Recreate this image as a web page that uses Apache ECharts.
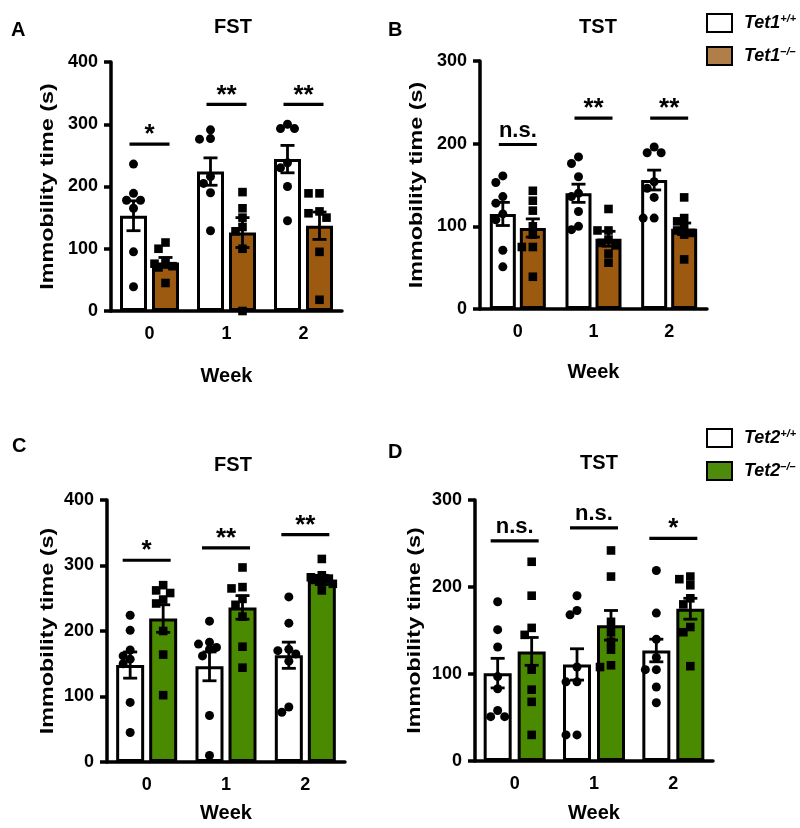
<!DOCTYPE html>
<html><head><meta charset="utf-8">
<script src="https://cdn.jsdelivr.net/npm/echarts@6/dist/echarts.min.js"></script>
<style>html,body{margin:0;padding:0;background:#fff}#c{width:800px;height:828px}</style>
</head><body><div id="c"></div>
<script>
// ---------- data ----------
const weeks = ['0', '1', '2'];

// Panel A: Tet1 FST
const aWtMean = [153, 224, 244];
const aWtSem = [24, 22, 22];
const aKoMean = [78, 126, 137];
const aKoSem = [8, 24, 22];
const aWtPts = [[236, 189, 178, 178, 165, 95, 39], [291, 277, 276, 216, 205, 190, 129], [300, 293, 293, 238, 230, 200, 145]];
const aKoPts = [[110, 100, 78, 76, 72, 70, 45], [191, 165, 150, 135, 128, 100, 0], [189, 189, 160, 157, 150, 95, 18]];
const aSigLabel = ['*', '**', '**'];
const aSigY = [268, 332, 332];

// Panel B: Tet1 TST
const bWtMean = [115, 140, 156];
const bWtSem = [14, 11, 12];
const bKoMean = [98, 85, 97];
const bKoSem = [11, 9, 7];
const bWtPts = [[161, 153, 136, 128, 115, 108, 71, 51], [184, 176, 160, 140, 136, 118, 100, 96], [196, 189, 189, 154, 146, 135, 110, 110]];
const bKoPts = [[143, 131, 119, 100, 90, 75, 75, 39], [121, 95, 95, 84, 80, 77, 67, 56], [135, 110, 106, 100, 95, 92, 90, 60]];
const bSigLabel = ['n.s.', '**', '**'];
const bSigY = [199, 231, 231];

// Panel C: Tet2 FST
const cWtMean = [148, 146, 163];
const cWtSem = [20, 22, 20];
const cKoMean = [219, 236, 278];
const cKoSem = [21, 18, 7];
const cWtPts = [[224, 201, 171, 162, 157, 150, 91, 45], [215, 183, 180, 175, 172, 162, 71, 10], [252, 212, 172, 170, 165, 154, 84, 76]];
const cKoPts = [[270, 262, 258, 248, 242, 200, 164, 102], [297, 267, 265, 249, 240, 222, 176, 144], [310, 285, 282, 280, 278, 275, 272, 262]];
const cSigLabel = ['*', '**', '**'];
const cSigY = [308, 327, 347];

// Panel D: Tet2 TST
const dWtMean = [101, 111, 127];
const dWtSem = [17, 18, 13];
const dKoMean = [126, 156, 175];
const dKoSem = [16, 17, 12];
const dWtPts = [[183, 151, 131, 97, 83, 58, 51, 51], [190, 173, 168, 108, 91, 91, 30, 30], [219, 170, 140, 119, 105, 105, 85, 67]];
const dKoPts = [[229, 190, 153, 145, 105, 82, 68, 30], [242, 212, 160, 148, 137, 128, 110, 108], [212, 209, 202, 187, 180, 154, 148, 109]];
const dSigLabel = ['n.s.', 'n.s.', '*'];
const dSigY = [253, 268, 256];

const tet1Names = ['Tet1+/+', 'Tet1–/–'];
const tet2Names = ['Tet2+/+', 'Tet2–/–'];
const panelLetters = ['A', 'B', 'C', 'D'];
const panelTitles = ['FST', 'TST', 'FST', 'TST'];
const yAxisTitle = 'Immobility time (s)';
const xAxisTitle = 'Week';

// ---------- styles / layout ----------
const FONT = '"Liberation Sans", Arial, Helvetica, sans-serif';
const BROWN = '#9b5a0f', BROWN_LEG = '#b07e48', GREEN = '#4a8a00', GREEN_LEG = '#4d8b0a';
const panels = [
  { grid: { left: 111, top: 62, width: 231, height: 249 }, max: 400, barW: 27, gap: 5, sigHalf: 20, nameGapX: 55, yNameOff: 63, titleX: 228, titleY: 12, letterX: 6, letterY: 15,
    wtMean: aWtMean, wtSem: aWtSem, koMean: aKoMean, koSem: aKoSem, wtPts: aWtPts, koPts: aKoPts, sigL: aSigLabel, sigY: aSigY, names: tet1Names, ko: BROWN },
  { grid: { left: 480, top: 61, width: 227, height: 248 }, max: 300, barW: 26, gap: 4, sigHalf: 19, nameGapX: 53, yNameOff: 63, titleX: 593, titleY: 12, letterX: 383, letterY: 15,
    wtMean: bWtMean, wtSem: bWtSem, koMean: bKoMean, koSem: bKoSem, wtPts: bWtPts, koPts: bKoPts, sigL: bSigLabel, sigY: bSigY, names: tet1Names, ko: BROWN },
  { grid: { left: 107, top: 500, width: 238, height: 262 }, max: 400, barW: 28, gap: 5, sigHalf: 24, nameGapX: 41, yNameOff: 59, titleX: 228, titleY: 450, letterX: 7, letterY: 431,
    wtMean: cWtMean, wtSem: cWtSem, koMean: cKoMean, koSem: cKoSem, wtPts: cWtPts, koPts: cKoPts, sigL: cSigLabel, sigY: cSigY, names: tet2Names, ko: GREEN },
  { grid: { left: 475, top: 500, width: 238, height: 261 }, max: 300, barW: 28, gap: 6, sigHalf: 24, nameGapX: 42, yNameOff: 60, titleX: 594, titleY: 448, letterX: 383, letterY: 437,
    wtMean: dWtMean, wtSem: dWtSem, koMean: dKoMean, koSem: dKoSem, wtPts: dWtPts, koPts: dKoPts, sigL: dSigLabel, sigY: dSigY, names: tet2Names, ko: GREEN }
];

function swarm(values, ppu) {
  const placed = [], offs = [];
  const cands = [0, -7, 7, -11, 11];
  values.forEach(v => {
    const y = v * ppu;
    let best = 0, bestD = -1;
    for (const dx of cands) {
      const d = placed.length ? Math.min(...placed.map(p => Math.hypot(p[0] - dx, p[1] - y))) : 99;
      if (d >= 7.5) { best = dx; bestD = 99; break; }
      if (d > bestD) { bestD = d; best = dx; }
    }
    placed.push([best, y]);
    offs.push(best);
  });
  return offs;
}

function pointsSeries(gi, pts, side, shape, p) {
  const data = [];
  pts.forEach((arr, c) => arr.forEach((v, i) => data.push([c, v, i])));
  const cache = {};
  const off = (p.barW + p.gap) / 2;
  return {
    type: 'custom', xAxisIndex: gi, yAxisIndex: gi, data, z: 6, silent: true,
    renderItem(params, api) {
      const c = api.value(0), v = api.value(1), i = api.value(2);
      const ppu = api.size([0, 1])[1];
      if (!cache[c] || cache[c].ppu !== ppu) cache[c] = { ppu, offs: swarm(pts[c], ppu) };
      const base = api.coord([c, v]);
      const x = base[0] + side * off + cache[c].offs[i], y = base[1];
      if (shape === 'circle') return { type: 'circle', shape: { cx: x, cy: y, r: 4.5 }, style: { fill: '#000' } };
      return { type: 'rect', shape: { x: x - 4.3, y: y - 4.3, width: 8.6, height: 8.6 }, style: { fill: '#000' } };
    }
  };
}

function errSeries(gi, mean, sem, side, p) {
  const off = (p.barW + p.gap) / 2;
  return {
    type: 'custom', xAxisIndex: gi, yAxisIndex: gi, silent: true, z: 7,
    data: mean.map((m, c) => [c, m, sem[c]]),
    renderItem(params, api) {
      const c = api.value(0), m = api.value(1), s = api.value(2);
      const hi = api.coord([c, m + s]), lo = api.coord([c, m - s]);
      const x = hi[0] + side * off;
      const st = { stroke: '#000', lineWidth: 2.8 };
      return { type: 'group', children: [
        { type: 'line', shape: { x1: x, y1: hi[1], x2: x, y2: lo[1] }, style: st },
        { type: 'line', shape: { x1: x - 7, y1: hi[1], x2: x + 7, y2: hi[1] }, style: st },
        { type: 'line', shape: { x1: x - 7, y1: lo[1], x2: x + 7, y2: lo[1] }, style: st }
      ] };
    }
  };
}

function sigSeries(gi, ys, labels, p) {
  return {
    type: 'custom', xAxisIndex: gi, yAxisIndex: gi, silent: true, z: 8,
    data: ys.map((y, c) => [c, y]),
    renderItem(params, api) {
      const c = api.value(0), yv = api.value(1);
      const pt = api.coord([c, yv]);
      const lab = labels[c];
      const star = lab.indexOf('*') >= 0;
      return { type: 'group', children: [
        { type: 'line', shape: { x1: pt[0] - p.sigHalf, y1: pt[1], x2: pt[0] + p.sigHalf, y2: pt[1] }, style: { stroke: '#000', lineWidth: 3.2 } },
        { type: 'text', x: pt[0], y: star ? pt[1] + 4 : pt[1] - 3, style: { text: lab, fill: '#000', font: 'bold ' + (star ? 26 : 22) + 'px ' + FONT, align: 'center', verticalAlign: 'bottom' } }
      ] };
    }
  };
}

const grids = [], xAxes = [], yAxes = [], series = [], titles = [], graphics = [];
panels.forEach((p, gi) => {
  grids.push(p.grid);
  xAxes.push({
    type: 'category', gridIndex: gi, data: weeks, name: xAxisTitle, nameLocation: 'middle', nameGap: p.nameGapX,
    nameTextStyle: { fontFamily: FONT, fontWeight: 'bold', fontSize: 20, color: '#000' },
    axisLine: { lineStyle: { color: '#000', width: 3.5 } }, axisTick: { show: false },
    axisLabel: { fontFamily: FONT, fontWeight: 'bold', fontSize: 18, color: '#000', margin: 14 }
  });
  yAxes.push({
    type: 'value', gridIndex: gi, min: 0, max: p.max, interval: 100,
    axisLine: { show: true, lineStyle: { color: '#000', width: 3.5 } },
    axisTick: { show: true, length: 7, lineStyle: { color: '#000', width: 3.5 } },
    splitLine: { show: false },
    axisLabel: { fontFamily: FONT, fontWeight: 'bold', fontSize: 18, color: '#000', margin: 13 }
  });
  const gapPct = (p.gap / p.barW * 100).toFixed(1) + '%';
  series.push({ type: 'bar', name: p.names[0], xAxisIndex: gi, yAxisIndex: gi, data: p.wtMean, barWidth: p.barW, barGap: gapPct, silent: true,
    itemStyle: { color: '#fff', borderColor: '#000', borderWidth: 3 } });
  series.push({ type: 'bar', name: p.names[1], xAxisIndex: gi, yAxisIndex: gi, data: p.koMean, barWidth: p.barW, barGap: gapPct, silent: true,
    itemStyle: { color: p.ko, borderColor: '#000', borderWidth: 3 } });
  series.push(pointsSeries(gi, p.wtPts, -1, 'circle', p));
  series.push(pointsSeries(gi, p.koPts, 1, 'square', p));
  series.push(errSeries(gi, p.wtMean, p.wtSem, -1, p));
  series.push(errSeries(gi, p.koMean, p.koSem, 1, p));
  series.push(sigSeries(gi, p.sigY, p.sigL, p));
  titles.push({ text: panelTitles[gi], left: p.titleX, top: p.titleY, textAlign: 'center',
    textStyle: { fontFamily: FONT, fontWeight: 'bold', fontSize: 20, color: '#000' } });
  titles.push({ text: panelLetters[gi], left: p.letterX, top: p.letterY,
    textStyle: { fontFamily: FONT, fontWeight: 'bold', fontSize: 20, color: '#000' } });
  graphics.push({ type: 'text', x: p.grid.left - p.yNameOff, y: p.grid.top + p.grid.height / 2, rotation: Math.PI / 2, scaleX: 1.3, silent: true,
    style: { text: yAxisTitle, fill: '#000', font: 'bold 18px ' + FONT, align: 'center', verticalAlign: 'middle' } });
});

function legendFor(names, koLegColor, top) {
  return {
    orient: 'vertical', left: 701, top, itemWidth: 25, itemHeight: 18, itemGap: 13, icon: 'rect', selectedMode: false,
    data: [
      { name: names[0], itemStyle: { color: '#fff', borderColor: '#000', borderWidth: 2 } },
      { name: names[1], itemStyle: { color: koLegColor, borderColor: '#000', borderWidth: 2 } }
    ],
    formatter: n => '{a|' + n.slice(0, 4) + '}{s|' + n.slice(4) + '}',
    textStyle: {
      rich: {
        a: { fontFamily: FONT, fontWeight: 'bold', fontStyle: 'italic', fontSize: 18, color: '#000', padding: [0, 0, 0, 7] },
        s: { fontFamily: FONT, fontWeight: 'bold', fontStyle: 'italic', fontSize: 11, color: '#000', padding: [0, 0, 9, 0] }
      }
    }
  };
}

const chart = echarts.init(document.getElementById('c'), null, { renderer: 'canvas' });
chart.setOption({
  animation: false,
  backgroundColor: '#fff',
  title: titles,
  legend: [legendFor(tet1Names, BROWN_LEG, 8), legendFor(tet2Names, GREEN_LEG, 423)],
  graphic: graphics,
  grid: grids, xAxis: xAxes, yAxis: yAxes, series
});
</script></body></html>
